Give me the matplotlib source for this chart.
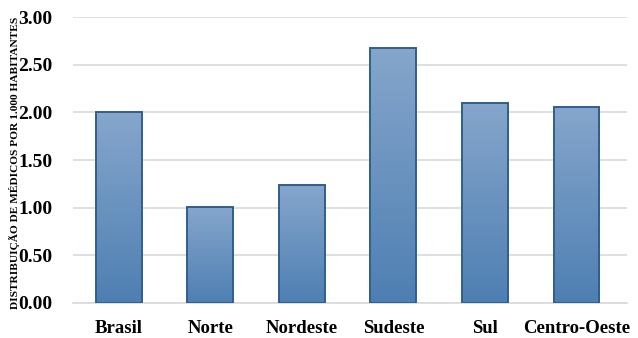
import numpy as np
import matplotlib.pyplot as plt
from matplotlib.colors import LinearSegmentedColormap

regions = ["Brasil", "Norte", "Nordeste", "Sudeste", "Sul", "Centro-Oeste"]
medicos = [2.00, 1.01, 1.24, 2.68, 2.10, 2.06]
yticks = [0.0, 0.5, 1.0, 1.5, 2.0, 2.5, 3.0]

plt.rcParams['font.family'] = ['Liberation Serif', 'DejaVu Serif']

fig = plt.figure(figsize=(6.38, 3.38), dpi=100)
ax = fig.add_axes([0.1144, 0.1036, 0.868, 0.846])

x = np.arange(len(regions))
bars = ax.bar(x, medicos, width=0.5, color='none', edgecolor='#2f5f8e', linewidth=1.4, zorder=3)

# vertical gradient inside each bar
cmap = LinearSegmentedColormap.from_list('g', ['#4e7fb2', '#86a6cc'])
grad = np.linspace(0, 1, 256).reshape(-1, 1)
for b in bars:
    x0, w, h = b.get_x(), b.get_width(), b.get_height()
    im = ax.imshow(grad, cmap=cmap, extent=[x0, x0 + w, 0, h], origin='lower',
                   aspect='auto', zorder=2)
    im.set_clip_path(b)

ax.set_xlim(-0.5, len(regions) - 0.45)
ax.set_ylim(0, 3.0)
ax.set_yticks(yticks)
ax.set_yticklabels([f"{v:.2f}" for v in yticks], fontsize=14, fontweight='bold')
ax.set_xticks(x)
ax.set_xticklabels(regions, fontsize=13.5, fontweight='bold')
ax.tick_params(axis='both', length=0)
ax.tick_params(axis='y', pad=15)
ax.tick_params(axis='x', pad=12)
ax.grid(axis='y', color='#d9d9d9', linewidth=1.2, zorder=0)
for s in ['top', 'right', 'left']:
    ax.spines[s].set_visible(False)
ax.spines['bottom'].set_color('#d9d9d9')
ax.spines['bottom'].set_linewidth(1.2)

fig.text(0.022, 0.518, "DISTRIBUIÇÃO DE MÉDICOS POR 1.000 HABITANTES", rotation=90,
         ha='center', va='center', fontsize=8.2, fontweight='bold')

fig.savefig("out.png", dpi=100)
